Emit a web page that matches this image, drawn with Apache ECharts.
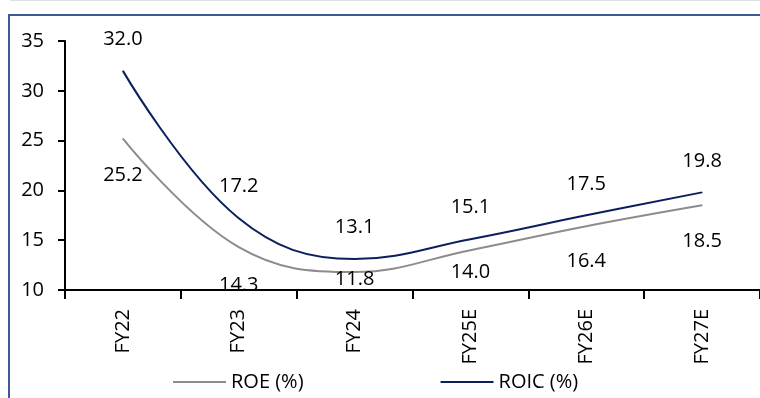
<!DOCTYPE html>
<html>
<head>
<meta charset="utf-8">
<script src="https://cdn.jsdelivr.net/npm/echarts@6/dist/echarts.min.js"></script>
<style>
  html, body { margin: 0; padding: 0; background: #fff; }
  #chart { width: 760px; height: 398px; }
</style>
</head>
<body>
<div id="chart"></div>
<script>
const categories = ['FY22', 'FY23', 'FY24', 'FY25E', 'FY26E', 'FY27E']
const roe = [25.2, 14.3, 11.8, 14.0, 16.4, 18.5]
const roic = [32.0, 17.2, 13.1, 15.1, 17.5, 19.8]
const yTicks = [10, 15, 20, 25, 30, 35]
// ROE labels sit below the line; the low ones are pushed up to stay near the axis
const roeLabelShift = [26, 28, -3, 12, 25, 25]

const font = 'Open Sans'
const fs = 20
const chart = echarts.init(document.getElementById('chart'))

const labelFmt = p => Number(p.value).toFixed(1)

chart.setOption({
  backgroundColor: '#fff',
  animation: false,
  textStyle: { fontFamily: font },
  graphic: [
    // thin grey rule along the top edge
    { type: 'rect', shape: { x: 10, y: 0, width: 750, height: 1 }, style: { fill: '#e0e0e0' } },
    // frame lines (top and left)
    { type: 'rect', shape: { x: 8, y: 14, width: 752, height: 2 }, style: { fill: '#3d5a96' } },
    { type: 'rect', shape: { x: 8, y: 14, width: 2, height: 384 }, style: { fill: '#3d5a96' } }
  ],
  grid: {
    left: 65,
    right: 0,
    top: 41,
    bottom: 108,
    containLabel: false
  },
  legend: {
    bottom: 1,
    left: 168,
    icon: 'rect',
    itemWidth: 53,
    itemHeight: 2,
    itemGap: 137,
    textStyle: { fontSize: fs, color: '#000', fontFamily: font },
    data: ['ROE (%)', 'ROIC (%)']
  },
  xAxis: {
    type: 'category',
    data: categories,
    boundaryGap: true,
    axisLine: { lineStyle: { color: '#000', width: 2 } },
    axisTick: { show: true, length: 9, lineStyle: { color: '#000', width: 2 } },
    axisLabel: { rotate: 90, margin: 19, fontSize: fs, color: '#000', fontFamily: font },
    splitLine: { show: false }
  },
  yAxis: {
    type: 'value',
    min: yTicks[0],
    max: yTicks[yTicks.length - 1],
    interval: 5,
    axisLine: { show: true, lineStyle: { color: '#000', width: 2 } },
    axisTick: { show: true, length: 7, lineStyle: { color: '#000', width: 2 } },
    axisLabel: { margin: 21, fontSize: fs, color: '#000', fontFamily: font },
    splitLine: { show: false }
  },
  series: [
    {
      name: 'ROE (%)',
      type: 'line',
      smooth: 0.4,
      showSymbol: true,
      symbol: 'circle',
      symbolSize: 1,
      lineStyle: { color: '#8c8c8c', width: 2 },
      itemStyle: { color: '#8c8c8c' },
      label: {
        show: true,
        position: 'bottom',
        distance: 0,
        fontSize: fs,
        color: '#000',
        fontFamily: font,
        formatter: labelFmt
      },
      data: roe.map((v, i) => ({ value: v, label: { offset: [0, roeLabelShift[i]] } }))
    },
    {
      name: 'ROIC (%)',
      type: 'line',
      smooth: 0.4,
      showSymbol: true,
      symbol: 'circle',
      symbolSize: 1,
      lineStyle: { color: '#0b1f5c', width: 2 },
      itemStyle: { color: '#0b1f5c' },
      label: {
        show: true,
        position: 'top',
        distance: 21,
        fontSize: fs,
        color: '#000',
        fontFamily: font,
        formatter: labelFmt
      },
      data: roic
    }
  ]
})
</script>
</body>
</html>
